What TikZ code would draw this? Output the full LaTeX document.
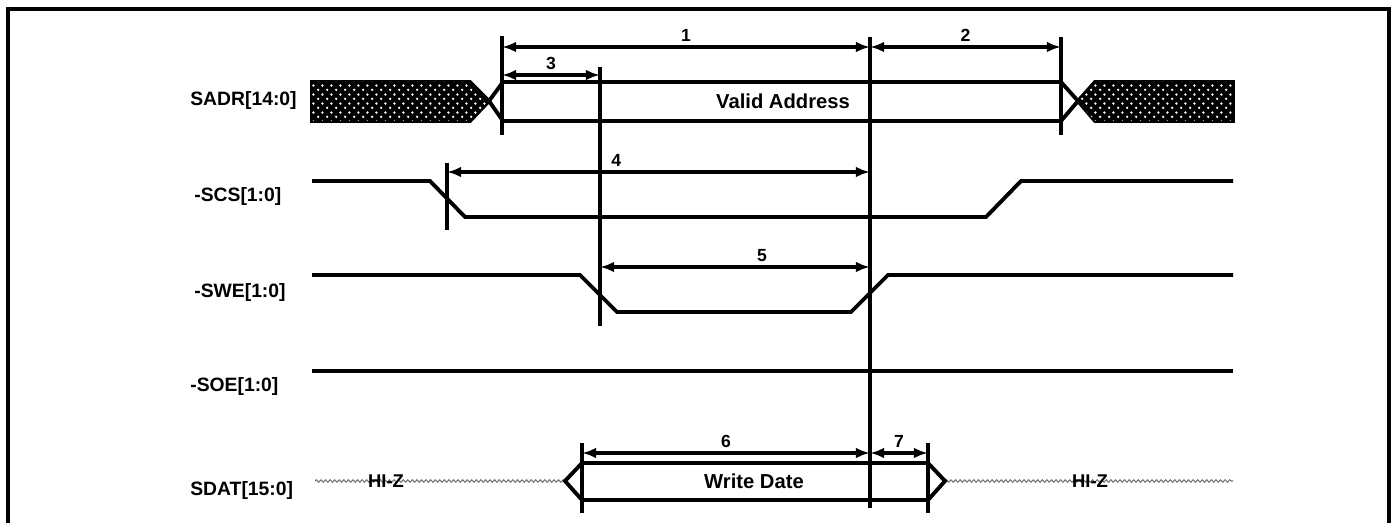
\documentclass[tikz,border=0pt]{standalone}
\usepackage{fontspec}
\setmainfont{Liberation Sans}
\usetikzlibrary{arrows.meta,patterns,decorations.pathmorphing}
\pgfdeclarepatternformonly{busdots}{\pgfqpoint{0pt}{0pt}}{\pgfqpoint{5pt}{5pt}}{\pgfqpoint{5pt}{5pt}}{%
    \pgfpathcircle{\pgfqpoint{1.25pt}{1.25pt}}{0.75pt}
    \pgfpathcircle{\pgfqpoint{3.75pt}{3.75pt}}{0.75pt}
    \pgfusepath{fill}}
\tikzset{
    sig/.style={line width=2.2pt,line join=miter},
    xhatch/.style={sig,fill=black,postaction={pattern=busdots,pattern color=white}},
    marker/.style={line width=2pt},
    dim/.style={line width=1.8pt,{Latex[length=8pt,width=6pt]}-{Latex[length=8pt,width=6pt]}},
    dimlbl/.style={font=\fontsize{10}{12}\selectfont\bfseries,above=1pt,inner sep=1pt},
    siglbl/.style={font=\fontsize{11}{13}\selectfont\bfseries,anchor=west,inner sep=0pt},
    buslbl/.style={font=\fontsize{11.5}{13}\selectfont\bfseries,inner sep=0pt},
    hiz/.style={line width=0.6pt,black!55,decorate,decoration={snake,amplitude=0.7pt,segment length=2.6pt}},
    hizlbl/.style={font=\fontsize{10.5}{12}\selectfont\bfseries,inner sep=0pt},
}

\begin{document}
\begin{tikzpicture}[x=0.02cm,y=-0.02cm]
    \useasboundingbox (0,0) rectangle (1395,523);
    \draw[line width=2.4pt] (8,523) -- (8,9) -- (1389,9) -- (1389,523);

    % signal names
    \node[siglbl] (nadr) at (190,101) {SADR[14:0]};
    \node[siglbl] (ncs) at (194,197) {-SCS[1:0]};
    \node[siglbl] (nwe) at (194,293) {-SWE[1:0]};
    \node[siglbl] (noe) at (190,387) {-SOE[1:0]};
    \node[siglbl] (ndat) at (190,491) {SDAT[15:0]};

    % address bus
    \draw[xhatch] (312,82) -- (470,82) -- (489,101) -- (470,121) -- (312,121) -- cycle;
    \draw[sig] (489,101) -- (503,82) -- (1061,82) -- (1078,101) -- (1061,121) -- (503,121) -- cycle;
    \draw[xhatch] (1078,101) -- (1095,82) -- (1233,82) -- (1233,121) -- (1095,121) -- cycle;
    \node[buslbl] (valid) at (783,101) {Valid Address};

    % strobes
    \draw[sig] (312,181) -- (430,181) -- (465,217) -- (986,217) -- (1021,181) -- (1233,181);
    \draw[sig] (312,275) -- (580,275) -- (617,312) -- (851,312) -- (888,275) -- (1233,275);
    \draw[sig] (312,371) -- (1233,371);

    % data bus
    \draw[hiz] (315,481) -- (565,481);
    \draw[hiz] (945,481) -- (1233,481);
    \node[hizlbl] (hz1) at (386,481) {HI-Z};
    \node[hizlbl] (hz2) at (1090,481) {HI-Z};
    \draw[sig] (565,481) -- (582,463) -- (928,463) -- (945,481) -- (928,500) -- (582,500) -- cycle;
    \node[buslbl] (wdat) at (754,481) {Write Date};

    % reference edges
    \foreach \x/\top/\bot in {447/163/230,502/36/135,582/443/513,600/67/326,870/37/508,928/443/513,1061/37/135}
        \draw[marker] (\x,\top) -- (\x,\bot);

    % timing parameters
    \coordinate (p1a) at (502,47);  \coordinate (p1b) at (870,47);
    \coordinate (p2b) at (1061,47);
    \coordinate (p3a) at (502,75);  \coordinate (p3b) at (600,75);
    \coordinate (p4a) at (447,172); \coordinate (p4b) at (870,172);
    \coordinate (p5a) at (600,267); \coordinate (p5b) at (870,267);
    \coordinate (p6a) at (582,453); \coordinate (p6b) at (870,453);
    \coordinate (p7b) at (928,453);

    \draw[dim] (p1a) -- node[dimlbl] {1} (p1b);
    \draw[dim] (p1b) -- node[dimlbl] {2} (p2b);
    \draw[dim] (p3a) -- node[dimlbl] {3} (p3b);
    \draw[dim] (p4a) -- node[dimlbl,pos=0.4] {4} (p4b);
    \draw[dim] (p5a) -- node[dimlbl,pos=0.6] {5} (p5b);
    \draw[dim] (p6a) -- node[dimlbl] {6} (p6b);
    \draw[dim] (p6b) -- node[dimlbl] {7} (p7b);
\end{tikzpicture}
\end{document}
